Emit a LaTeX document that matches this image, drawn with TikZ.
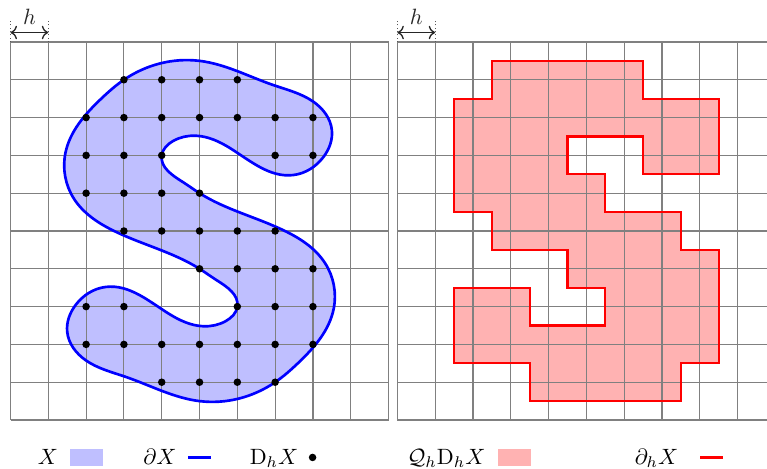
\documentclass[tikz,border=0pt]{standalone}
\usepackage{amsmath}
\usepackage{amssymb}
\usepackage{tikz}
\usetikzlibrary{positioning, arrows.meta, calc, hobby}
\tikzset{
  gridline/.style={gray, line width=0.5pt},
  setline/.style={blue, line width=1.2pt},
  cellline/.style={red, line width=1pt},
  hguide/.style={gray!70!black, densely dotted, line width=0.5pt},
  harrow/.style={gray!30!black, line width=0.6pt, <->, >=To},
  legbox/.style={minimum width=5.2mm, minimum height=2.65mm, inner sep=0pt},
  legtext/.style={anchor=base},
  % the set X (an S)
  scurve/.style={use Hobby shortcut, closed=true, insert path={
      (5,9.5) .. (3,9) .. (2.4,8.5) .. (1.45,7.05) .. (1.68,5.85) .. (2.7,5.02)
      .. (5,4) .. (5.45,3.7) .. (6,3) .. (5.7,2.62) .. (5.1,2.48)
      .. (4.19,2.81) .. (2.52,3.52) .. (1.72,3.04) .. (1.5,2.33) .. (1.99,1.58)
      .. (3.05,1.14)
      .. (5,0.5) .. (7,1) .. (7.6,1.5) .. (8.55,2.95) .. (8.32,4.15)
      .. (7.3,4.98) .. (5,6) .. (4.55,6.3) .. (4,7) .. (4.3,7.38) .. (4.9,7.52)
      .. (5.81,7.19) .. (7.48,6.48) .. (8.28,6.96) .. (8.5,7.67) .. (8.01,8.42)
      .. (6.95,8.86)}},
  % the union of the cells of D_h X
  cellunion/.style={insert path={
      (2.5,9.5) -- (6.5,9.5) -- (6.5,8.5) -- (8.5,8.5) -- (8.5,6.5) -- (6.5,6.5)
      -- (6.5,7.5) -- (4.5,7.5) -- (4.5,6.5) -- (5.5,6.5) -- (5.5,5.5) -- (7.5,5.5)
      -- (7.5,4.5) -- (8.5,4.5) -- (8.5,1.5) -- (7.5,1.5) -- (7.5,0.5) -- (3.5,0.5)
      -- (3.5,1.5) -- (1.5,1.5) -- (1.5,3.5) -- (3.5,3.5) -- (3.5,2.5) -- (5.5,2.5)
      -- (5.5,3.5) -- (4.5,3.5) -- (4.5,4.5) -- (2.5,4.5) -- (2.5,5.5) -- (1.5,5.5)
      -- (1.5,8.5) -- (2.5,8.5) -- cycle}}
}
% grid points inside X, row by row
\newcommand{\gridrows}{9/{3,4,5,6}, 8/{2,...,8}, 7/{2,3,4,7,8}, 6/{2,3,4,5},
  5/{3,...,7}, 4/{5,...,8}, 3/{2,3,6,7,8}, 2/{2,...,8}, 1/{4,...,7}}

\begin{document}
\begin{tikzpicture}[x=0.6cm, y=0.6cm]
  \useasboundingbox (-0.278,-1.27) rectangle (20.01,11.11);

  % --- left: X, dX and D_h X ---
  \fill[blue!25, scurve];
  \draw[gridline, step=0.6cm] (0,0) grid (10,10);
  \draw[setline, scurve];
  \foreach \j/\cols in \gridrows
    \foreach \i in \cols
      \fill (\i,\j) circle (1.7pt);

  % --- right: Q_h D_h X and d_h X ---
  \begin{scope}[shift={(10.233,0)}]
    \fill[red!30, cellunion];
    \draw[gridline, step=0.6cm] (0,0) grid (9.77,10);
    \draw[cellline, cellunion];
  \end{scope}

  % step size h over both grids
  \foreach \ox in {0,10.233} {
    \coordinate (hL) at (\ox,10);
    \coordinate (hR) at (\ox+1,10);
    \draw[hguide] (hL) -- ++(0,0.6);
    \draw[hguide] (hR) -- ++(0,0.6);
    \draw[harrow] ($(hL)+(0,0.25)$) -- node[above] {$h$} ($(hR)+(0,0.25)$);
  }

  % --- legend ---
  \node[legtext] (legX) at (0.99,-1.18) {$X$};
  \node[legbox, fill=blue!25] (legXbox) at (2.01,-0.995) {};
  \node[legtext] (legdX) at (3.955,-1.18) {$\partial X$};
  \coordinate (legdXa) at (4.70,-0.99);
  \coordinate (legdXb) at (5.30,-0.99);
  \draw[setline] (legdXa) -- (legdXb);
  \node[legtext] (legD) at (6.97,-1.18) {$\mathrm{D}_h X$};
  \coordinate (legDdot) at (7.99,-0.99);
  \fill (legDdot) circle (1.7pt);

  \node[legtext] (legQ) at (11.53,-1.18) {$\mathcal{Q}_h\mathrm{D}_h X$};
  \node[legbox, fill=red!30] (legQbox) at (13.335,-0.995) {};
  \node[legtext] (legdh) at (17.09,-1.18) {$\partial_h X$};
  \coordinate (legdha) at (18.24,-0.99);
  \coordinate (legdhb) at (18.84,-0.99);
  \draw[cellline] (legdha) -- (legdhb);
\end{tikzpicture}
\end{document}
